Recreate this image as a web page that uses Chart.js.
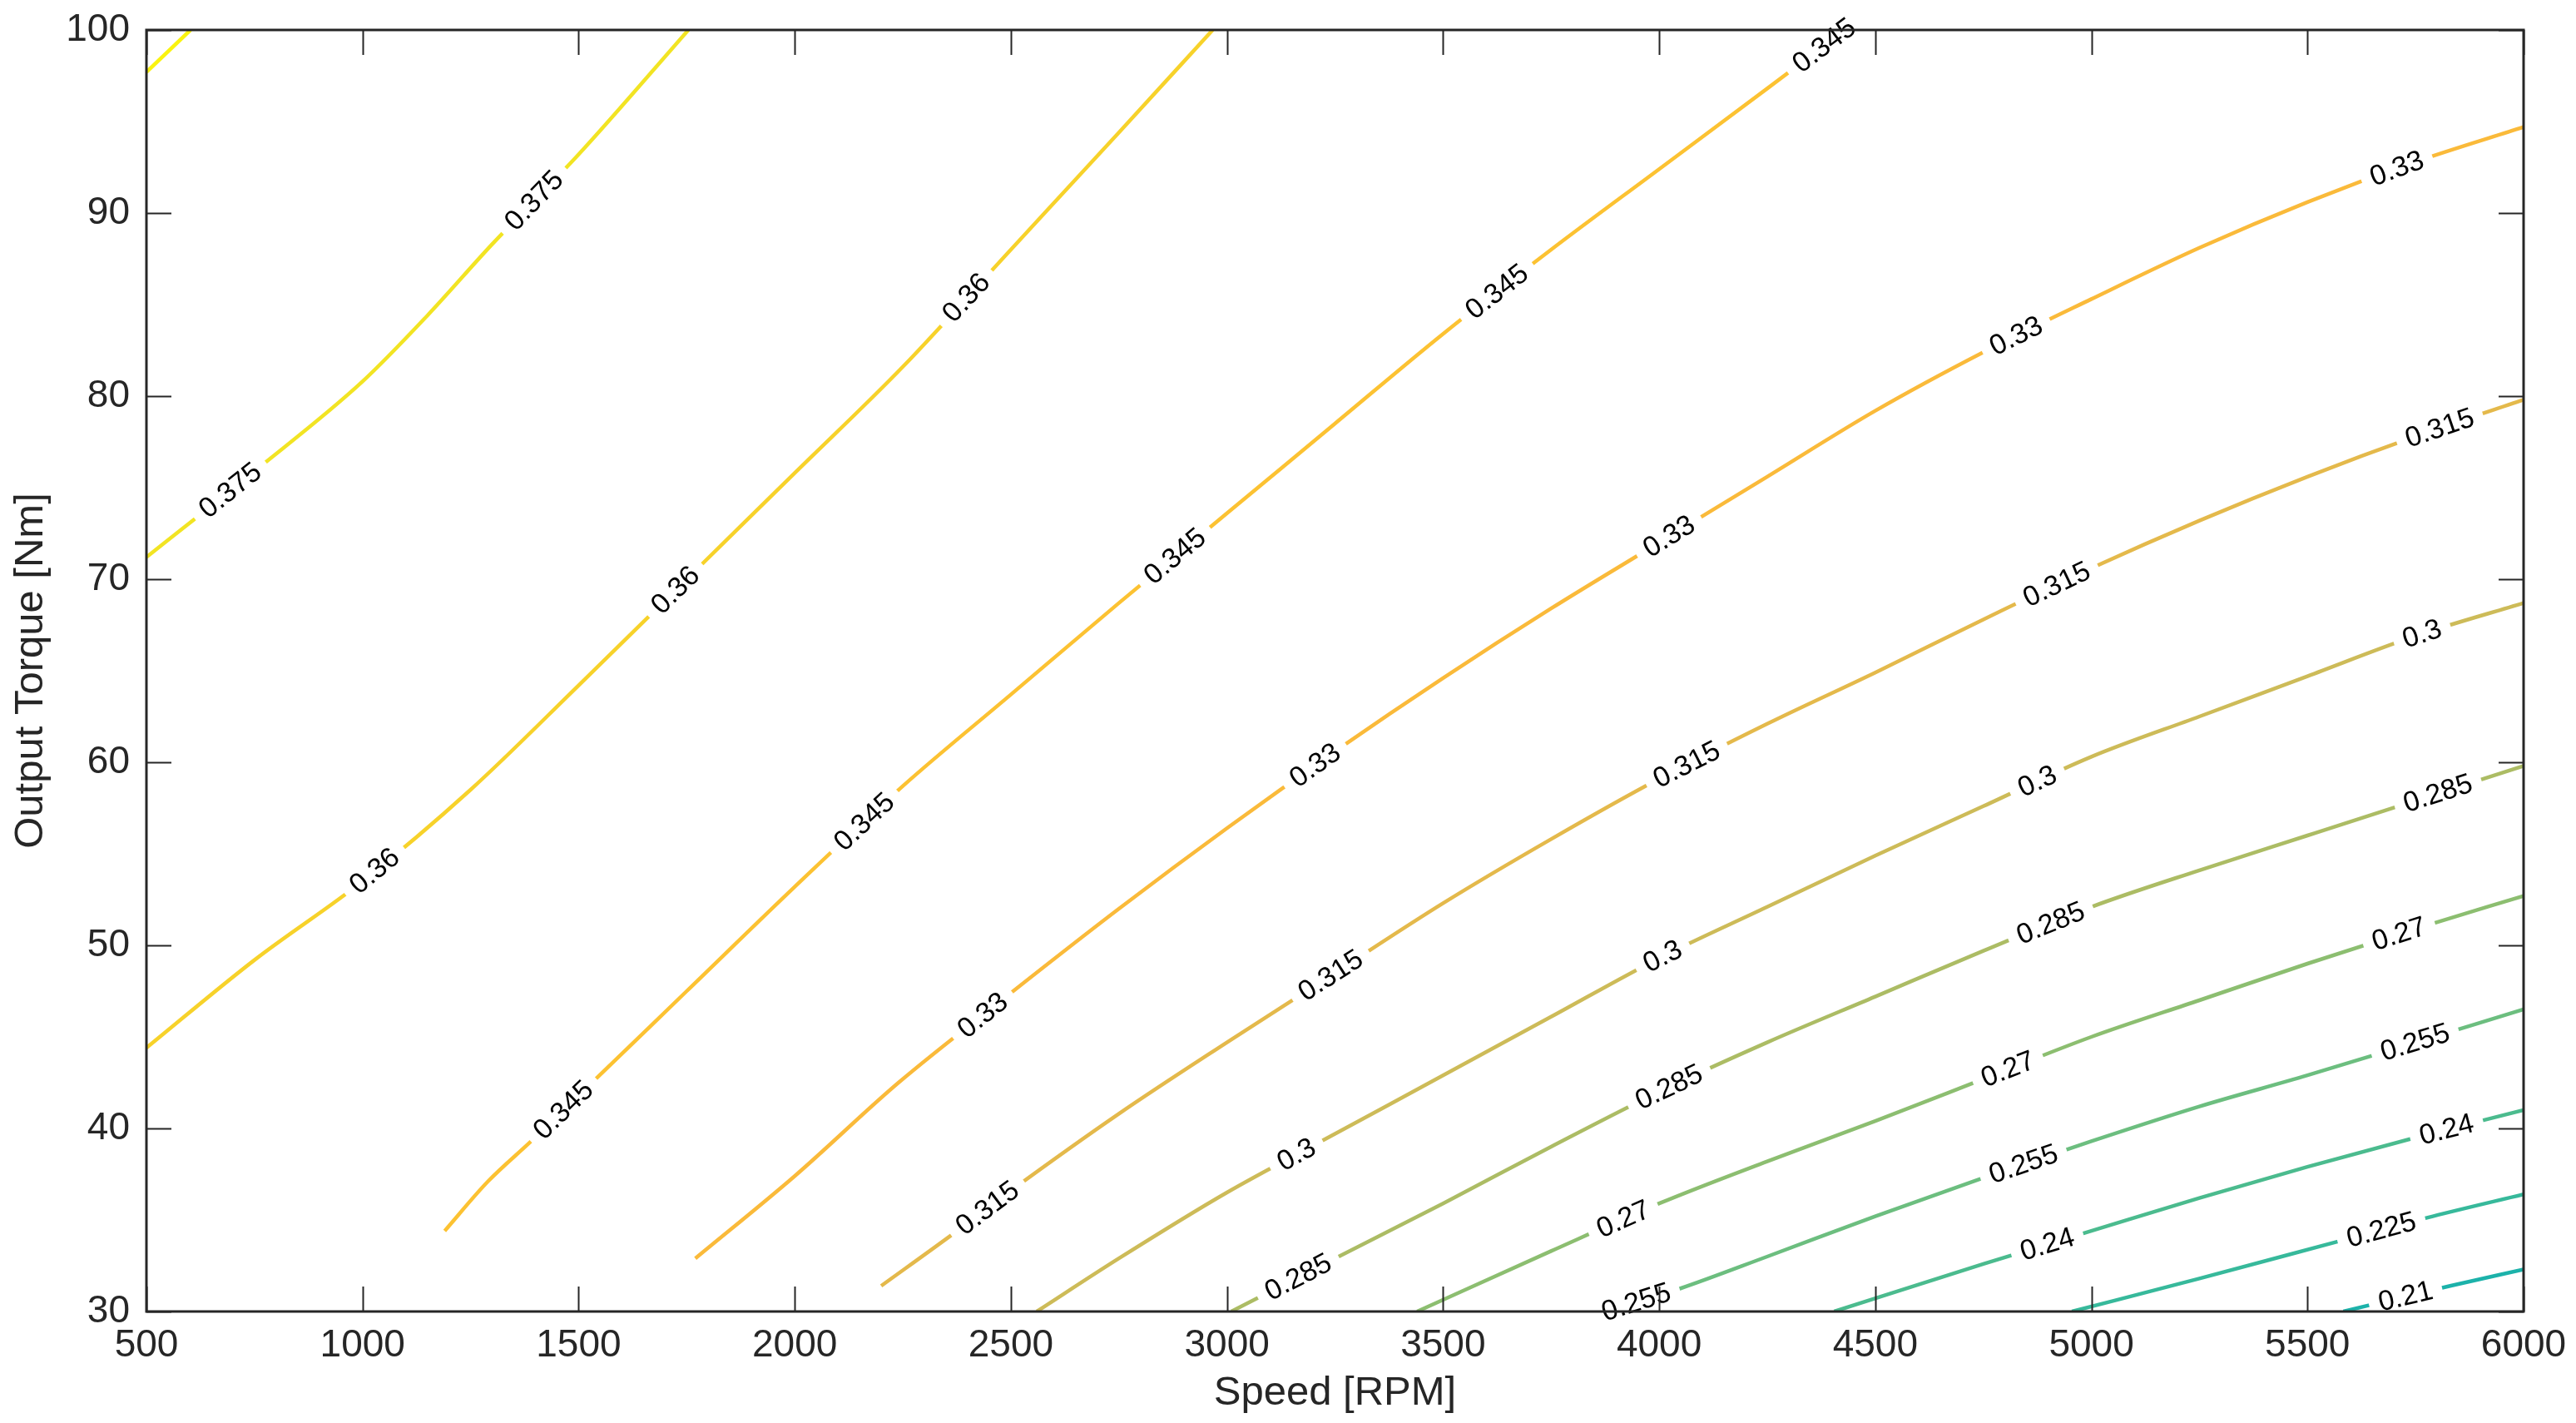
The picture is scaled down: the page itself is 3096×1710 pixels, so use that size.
<!DOCTYPE html>
<html>
<head>
<meta charset="utf-8">
<script src="https://cdn.jsdelivr.net/npm/chart.js@4.4.0/dist/chart.umd.min.js"></script>
<style>
  html, body { margin: 0; padding: 0; background: #fff; }
</style>
</head>
<body>
<canvas id="chart" width="3096" height="1710"></canvas>
<script>
// contour lines: speed [RPM] / torque [Nm]
const speed390 = [500, 602];
const torque390 = [97.7, 100];
const speed375 = [500, 750, 1000, 1150, 1300, 1500, 1754];
const torque375 = [71.2, 75.9, 80.8, 84.4, 88.3, 93.2, 100];
const speed360 = [500, 750, 1000, 1250, 1500, 1750, 2000, 2250, 2500, 2750, 2967];
const torque360 = [44.4, 49.2, 53.5, 58.5, 64.2, 70, 75.8, 81.6, 88.0, 94.4, 100];
const speed345 = [1190, 1290, 1390, 1500, 1750, 2000, 2250, 2500, 2750, 3000, 3250, 3500, 3750, 4000, 4250, 4430];
const torque345 = [34.4, 37.1, 39.3, 41.8, 47.5, 53.2, 58.7, 63.7, 68.7, 73.6, 78.5, 83.4, 88.0, 92.4, 96.8, 100];
const speed330 = [1770, 2000, 2240, 2500, 2750, 3000, 3250, 3500, 3750, 4000, 4250, 4500, 4750, 5000, 5250, 5500, 5750, 6000];
const torque330 = [32.9, 37.4, 42.5, 47.4, 52.0, 56.4, 60.6, 64.6, 68.4, 72.0, 75.6, 79.2, 82.4, 85.3, 88.1, 90.6, 92.8, 94.7];
const speed315 = [2200, 2364, 2500, 2750, 3000, 3250, 3500, 3750, 4000, 4250, 4500, 4750, 5000, 5250, 5500, 5750, 6000];
const torque315 = [31.4, 34.2, 36.6, 40.8, 44.7, 48.5, 52.3, 55.8, 59.1, 62.1, 64.9, 67.8, 70.6, 73.2, 75.6, 77.8, 79.8];
const speed300 = [2560, 2750, 3000, 3250, 3500, 3750, 4000, 4250, 4500, 4750, 5000, 5250, 5500, 5750, 6000];
const torque300 = [30, 32.9, 36.5, 39.7, 42.9, 46.1, 49.3, 52.1, 54.9, 57.6, 60.3, 62.5, 64.7, 66.9, 68.7];
const speed285 = [3010, 3250, 3500, 3750, 4000, 4250, 4500, 4750, 5000, 5250, 5500, 5750, 6000];
const torque285 = [30, 32.9, 35.9, 39.0, 42, 44.7, 47.2, 49.7, 52.1, 54.1, 56.0, 57.9, 59.8];
const speed270 = [3440, 3750, 4000, 4250, 4500, 4750, 5000, 5250, 5500, 5750, 6000];
const torque270 = [30, 33.3, 35.9, 38.2, 40.4, 42.7, 45, 47, 49, 50.9, 52.7];
const speed255 = [3880, 4048, 4250, 4500, 4750, 5000, 5250, 5500, 5750, 6000];
const torque255 = [30, 31.25, 33.0, 35.2, 37.3, 39.3, 41.2, 42.9, 44.7, 46.5];
const speed240 = [4405, 4750, 5000, 5250, 5500, 5750, 6000];
const torque240 = [30, 32.6, 34.4, 36.2, 37.9, 39.5, 41.0];
const speed225 = [4955, 5250, 5567, 5790, 6000];
const torque225 = [30, 31.8, 33.8, 35.2, 36.4];
const speed210 = [5583, 5830, 6000];
const torque210 = [30, 31.4, 32.3];

// speeds where the inline labels sit
const labels390 = [];
const labels375 = [694, 1397];
const labels360 = [1028, 1724, 2397];
const labels345 = [1465, 2161, 2880, 3625, 4382];
const labels330 = [2435, 3204, 4023, 4826, 5707];
const labels315 = [2446, 3240, 4064, 4920, 5806];
const labels300 = [3161, 4008, 4875, 5765];
const labels285 = [3165, 4023, 4906, 5802];
const labels270 = [3917, 4807, 5712];
const labels255 = [3947, 4843, 5749];
const labels240 = [4898, 5822];
const labels225 = [5671];
const labels210 = [5727];

const levels = ['0.39', '0.375', '0.36', '0.345', '0.33', '0.315', '0.3', '0.285', '0.27', '0.255', '0.24', '0.225', '0.21'];
const speeds = [speed390, speed375, speed360, speed345, speed330, speed315, speed300, speed285, speed270, speed255, speed240, speed225, speed210];
const torques = [torque390, torque375, torque360, torque345, torque330, torque315, torque300, torque285, torque270, torque255, torque240, torque225, torque210];
const labelSpots = [labels390, labels375, labels360, labels345, labels330, labels315, labels300, labels285, labels270, labels255, labels240, labels225, labels210];

const colors = [
  'rgb(250,243,15)', 'rgb(242,228,35)', 'rgb(247,210,42)', 'rgb(252,194,50)',
  'rgb(250,186,58)', 'rgb(228,185,75)', 'rgb(205,187,88)', 'rgb(172,188,100)',
  'rgb(140,190,112)', 'rgb(108,190,127)', 'rgb(75,187,142)', 'rgb(55,185,155)',
  'rgb(28,178,170)'
];

const FONT = '"Liberation Sans", Arial, Helvetica, sans-serif';
const AXIS = '#262626';

const datasets = levels.map((lev, i) => ({
  label: lev,
  data: speeds[i].map((s, j) => ({ x: s, y: torques[i][j] })),
  labelAt: labelSpots[i],
  showLine: true,
  borderColor: colors[i],
  borderWidth: 4.5,
  pointRadius: 0,
  cubicInterpolationMode: 'monotone',
}));

function pointAt(data, sx) {
  if (sx <= data[0].x) return data[0];
  for (let i = 1; i < data.length; i++) {
    if (sx <= data[i].x) {
      const a = data[i - 1], b = data[i];
      const t = (sx - a.x) / (b.x - a.x);
      return { x: sx, y: a.y + t * (b.y - a.y) };
    }
  }
  return data[data.length - 1];
}

const contourLabels = {
  id: 'contourLabels',
  afterDatasetsDraw(chart) {
    const { ctx, chartArea: area } = chart;
    const xs = chart.scales.x, ys = chart.scales.y;
    ctx.save();
    ctx.font = '34px ' + FONT;
    ctx.textAlign = 'center';
    ctx.textBaseline = 'middle';
    chart.data.datasets.forEach((ds) => {
      ds.labelAt.forEach((sx) => {
        const p = pointAt(ds.data, sx);
        const a = pointAt(ds.data, sx - 50);
        const b = pointAt(ds.data, sx + 50);
        const ang = Math.atan2(
          ys.getPixelForValue(b.y) - ys.getPixelForValue(a.y),
          xs.getPixelForValue(b.x) - xs.getPixelForValue(a.x)
        );
        const w = ctx.measureText(ds.label).width;
        ctx.save();
        ctx.translate(xs.getPixelForValue(p.x), ys.getPixelForValue(p.y));
        ctx.rotate(ang);
        ctx.fillStyle = '#fff';
        ctx.fillRect(-w / 2 - 12, -13, w + 24, 26);
        ctx.fillStyle = '#000';
        ctx.fillText(ds.label, 0, 1);
        ctx.restore();
      });
    });

    // box and inward ticks on all four sides
    ctx.strokeStyle = AXIS;
    ctx.lineWidth = 2;
    xs.ticks.forEach((t) => {
      const px = Math.round(xs.getPixelForValue(t.value)) + 0.5;
      ctx.beginPath();
      ctx.moveTo(px, area.bottom); ctx.lineTo(px, area.bottom - 30);
      ctx.moveTo(px, area.top); ctx.lineTo(px, area.top + 30);
      ctx.stroke();
    });
    ys.ticks.forEach((t) => {
      const py = Math.round(ys.getPixelForValue(t.value)) + 0.5;
      ctx.beginPath();
      ctx.moveTo(area.left, py); ctx.lineTo(area.left + 30, py);
      ctx.moveTo(area.right, py); ctx.lineTo(area.right - 30, py);
      ctx.stroke();
    });
    ctx.lineWidth = 3;
    ctx.strokeRect(area.left, area.top, area.right - area.left, area.bottom - area.top);
    ctx.restore();
  }
};

new Chart(document.getElementById('chart'), {
  type: 'scatter',
  data: { datasets },
  plugins: [contourLabels],
  options: {
    responsive: false,
    animation: false,
    devicePixelRatio: 1,
    layout: { padding: { top: 36, right: 63, left: 0, bottom: 0 } },
    plugins: {
      legend: { display: false },
      tooltip: { enabled: false },
    },
    scales: {
      x: {
        type: 'linear',
        min: 500,
        max: 6000,
        grid: { display: false, drawTicks: false },
        border: { display: false },
        ticks: {
          stepSize: 500,
          autoSkip: false,
          maxRotation: 0,
          padding: 14,
          color: AXIS,
          font: { family: FONT, size: 46 },
          callback: (v) => String(v),
        },
        title: {
          display: true,
          text: 'Speed [RPM]',
          color: AXIS,
          font: { family: FONT, size: 49 },
          padding: { top: 0, bottom: 6 },
        },
        afterFit: (scale) => {
          scale.height = 134;
          scale.paddingLeft = 0;
          scale.paddingRight = 0;
        },
      },
      y: {
        type: 'linear',
        min: 30,
        max: 100,
        grid: { display: false, drawTicks: false },
        border: { display: false },
        ticks: {
          stepSize: 10,
          padding: 20,
          color: AXIS,
          font: { family: FONT, size: 46 },
          callback: (v) => String(v),
        },
        title: {
          display: true,
          text: 'Output Torque [Nm]',
          color: AXIS,
          font: { family: FONT, size: 49 },
          padding: { top: 8, bottom: 0 },
        },
        afterFit: (scale) => {
          scale.width = 176;
          scale.paddingTop = 0;
          scale.paddingBottom = 0;
        },
      },
    },
  },
});
</script>
</body>
</html>
